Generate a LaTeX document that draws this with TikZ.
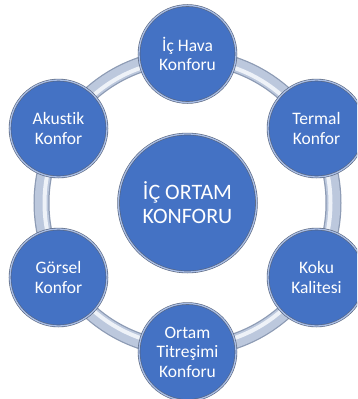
\documentclass[tikz,border=0pt]{standalone}
\usepackage{fontspec}
\setmainfont{Carlito}[Ligatures={NoCommon,NoRare}]
\begin{document}
\begin{tikzpicture}[x=1pt,y=-1pt]
  \definecolor{discblue}{HTML}{4472C4}
  \definecolor{discrim}{HTML}{A9BEE6}
  \definecolor{discedge}{HTML}{56637C}
  \definecolor{ringedge}{HTML}{8D9BB4}
  \definecolor{ringfill}{HTML}{BCC8DD}
  \definecolor{ringshine}{HTML}{EEF2F8}
  \tikzset{
    disc/.style={circle, fill=discblue, draw=discedge, line width=0.6pt,
      double=discrim, double distance=1.3pt, text=white, align=center,
      inner sep=0pt},
    satellite/.style={disc, minimum size=97pt,
      font=\fontsize{17.5}{19.5}\selectfont},
    hub/.style={disc, minimum size=138pt,
      font=\fontsize{22}{24}\selectfont},
  }
  \useasboundingbox (0,0) rectangle (357,399);
  \clip (0,0) rectangle (357,399);
  \fill[white] (0,0) rectangle (357,399);

  % connecting ring behind the discs
  \coordinate (o) at (187.5,203);
  \draw[ringedge, line width=16pt] (o) circle[radius=146];
  \draw[ringfill, line width=13.5pt] (o) circle[radius=146];
  \draw[ringshine, line width=4pt] (o) circle[radius=143];

  % central disc
  \node[hub] (hub) at (o) {İÇ ORTAM\\KONFORU};

  % satellites around the ring
  \node[satellite] (hava)   at (187.5,54)  {İç Hava\\Konforu};
  \node[satellite] (termal) at (316.5,128.5) {Termal\\Konfor};
  \node[satellite] (koku)   at (316.5,277.5) {Koku\\Kalitesi};
  \node[satellite] (titre)  at (187.5,352) {Ortam\\Titreşimi\\Konforu};
  \node[satellite] (gorsel) at (58.5,277.5)  {Görsel\\Konfor};
  \node[satellite] (akustik) at (58.5,128.5) {Akustik\\Konfor};
\end{tikzpicture}
\end{document}
